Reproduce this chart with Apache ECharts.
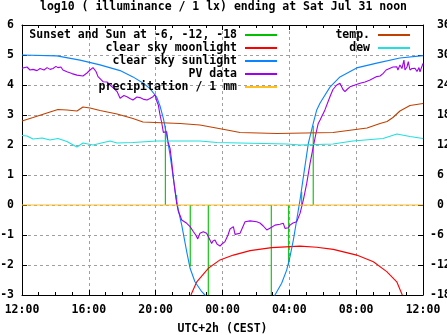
<!DOCTYPE html>
<html><head><meta charset="utf-8">
<script src="https://cdn.jsdelivr.net/npm/echarts@6/dist/echarts.min.js"></script>
<style>html,body{margin:0;padding:0;background:#fff}#c{width:447px;height:335px}</style>
</head><body><div id="c"></div>
<script>
// hours after 12:00 noon (0..24)
const xTickHours = [0, 4, 8, 12, 16, 20, 24];
const sunsetHours = [8.58, 9.26, 10.07, 11.15, 14.92, 15.96, 16.74, 17.43];
const sunsetLevels = [2.64, 0.33, -2.05, -3.0, -3.0, -2.0, 0.44, 2.64];

const moonHours = [10.11, 10.46, 11.15, 11.85, 12.65, 13.65, 14.94, 16.64, 17.64, 18.63, 20.03, 21.03, 21.83, 22.43, 22.76];
const moonValues = [-3.0, -2.56, -2.11, -1.83, -1.67, -1.52, -1.42, -1.37, -1.41, -1.48, -1.67, -1.89, -2.22, -2.56, -3.0];

const sunHours = [0, 2.09, 3.47, 4.67, 5.87, 6.64, 7.26, 7.66, 8.06, 8.26, 8.46, 8.66, 8.86, 9.06, 9.26, 9.40, 9.56, 9.71, 9.86, 10.06, 10.35, 10.76, 10.95, 11.2,
  14.9, 15.14, 15.54, 15.84, 16.04, 16.24, 16.44, 16.64, 16.84, 17.14, 17.43, 17.64, 17.84, 18.43, 19.03, 20.03, 21.23, 22.62, 24];
const sunValues = [5.0, 4.97, 4.83, 4.67, 4.48, 4.27, 4.06, 3.88, 3.6, 3.3, 2.89, 2.33, 1.67, 0.89, 0.11, -0.28, -0.67, -1.11, -1.56, -2.11, -2.56, -2.89, -3.0, -3.3,
  -3.3, -3.0, -2.61, -2.17, -1.72, -1.17, -0.5, 0.17, 0.94, 2.06, 2.72, 3.17, 3.4, 3.93, 4.27, 4.57, 4.73, 4.9, 4.98];

const pvHours = [0, 0.30, 0.48, 0.66, 0.90, 1.08, 1.32, 1.50, 1.68, 1.86, 2.03, 2.15, 2.33, 2.45, 2.69, 2.99, 3.29, 3.65, 3.89, 4.07, 4.25, 4.43, 4.55, 4.85, 5.09, 5.27, 5.51, 5.69, 5.87, 6.10, 6.28, 6.46, 6.64, 6.88, 7.06, 7.30, 7.48, 7.66, 7.84, 7.96, 8.08,
  8.16, 8.26, 8.36, 8.46, 8.56, 8.66, 8.74, 8.86, 8.96, 9.06, 9.16, 9.26, 9.35, 9.46, 9.56, 9.86, 10.06, 10.26, 10.40, 10.52, 10.65, 10.85, 11.05, 11.20, 11.35, 11.43, 11.55, 11.67, 11.85, 11.97, 12.15, 12.33, 12.45, 12.65, 12.75, 13.05, 13.35, 13.65, 14.05, 14.24, 14.44, 14.65, 14.74, 14.94, 15.14, 15.44, 15.64, 15.74, 15.94, 16.04, 16.22, 16.44,
  16.64, 16.84, 17.04, 17.24, 17.43, 17.60, 17.73, 17.84, 18.13, 18.43, 18.61, 18.84, 19.03, 19.21, 19.33, 19.45, 19.63, 19.93, 20.23, 20.53, 20.83, 21.23, 21.43, 21.62, 21.79, 22.03, 22.20, 22.43, 22.50, 22.62, 22.74, 22.86, 22.92, 23.04, 23.12, 23.22, 23.34, 23.52, 23.64, 23.76, 23.82, 23.91, 24.0];
const pvValues = [4.56, 4.6, 4.5, 4.52, 4.48, 4.55, 4.5, 4.58, 4.52, 4.55, 4.62, 4.58, 4.6, 4.5, 4.44, 4.38, 4.33, 4.3, 4.4, 4.5, 4.58, 4.45, 4.28, 4.11, 4.1, 4.0, 3.88, 3.78, 3.56, 3.65, 3.61, 3.55, 3.5, 3.6, 3.58, 3.52, 3.5, 3.55, 3.61, 3.68, 3.44,
  3.33, 3.0, 2.75, 2.42, 2.42, 2.44, 2.1, 1.89, 1.44, 0.9, 0.45, 0.05, -0.2, -0.35, -0.5, -0.61, -0.72, -0.89, -1.0, -1.13, -0.94, -0.89, -0.94, -1.11, -1.28, -1.2, -1.17, -1.3, -1.37, -1.3, -1.22, -1.0, -0.8, -0.72, -0.98, -0.94, -0.56, -0.53, -0.56, -0.6, -0.7, -0.83, -0.89, -0.74, -0.67, -0.64, -0.61, -0.78, -0.76, -0.67, -0.6, -0.56,
  -0.28, 0.17, 0.72, 1.39, 1.94, 2.4, 2.72, 2.83, 3.17, 3.61, 3.85, 4.0, 4.06, 3.85, 3.78, 3.85, 3.94, 4.0, 4.06, 4.1, 4.17, 4.28, 4.3, 4.39, 4.5, 4.56, 4.6, 4.61, 4.5, 4.67, 4.55, 4.83, 4.5, 4.6, 4.78, 4.5, 4.55, 4.56, 4.45, 4.58, 4.44, 4.5, 4.72];

const rainHours = [0, 24];
const rainValues = [0, 0];

// temperatures in deg C (right axis)
const tempHours = [0, 0.66, 1.68, 2.15, 2.69, 3.29, 3.65, 4.07, 4.67, 5.69, 6.64, 7.24, 9.46, 10.65, 12.27, 13.05, 15.26, 18.61, 20.65, 21.43, 21.85, 22.20, 22.62, 23.22, 24];
const tempValues = [16.8, 17.5, 18.6, 19.1, 19.0, 18.8, 19.6, 19.4, 18.9, 18.2, 17.3, 16.6, 16.3, 16.0, 15.0, 14.5, 14.3, 14.5, 15.4, 16.3, 16.7, 17.5, 18.8, 19.9, 20.3];
const dewHours = [0, 0.30, 0.66, 1.20, 1.68, 2.15, 2.69, 3.29, 3.65, 4.25, 5.27, 5.69, 6.64, 8.08, 10.65, 11.67, 13.05, 15.86, 16.64, 18.61, 19.81, 21.61, 22.44, 23.22, 24];
const dewValues = [13.9, 13.8, 13.2, 13.4, 13.0, 13.3, 12.7, 11.6, 12.4, 12.0, 12.8, 12.4, 12.5, 12.8, 12.8, 12.5, 12.4, 12.2, 12.0, 12.2, 12.8, 13.3, 14.2, 13.7, 13.3];

const leftNames = ['Sunset and Sun at -6, -12, -18', 'clear sky moonlight', 'clear sky sunlight', 'PV data', 'precipitation / 1 mm'];
const rightNames = ['temp.', 'dew'];

const zip = (a, b) => a.map((x, i) => [x, b[i]]);
const sunsetData = [];
sunsetHours.forEach((h, i) => { sunsetData.push([h, 0], [h, sunsetLevels[i]], [h, '-']); });

const FONT = '"DejaVu Sans Mono", monospace';
const txt = {fontFamily: FONT, fontWeight: 'bold', fontSize: 11.5, color: '#000'};
const pad2 = n => (n < 10 ? '0' : '') + n;

const legends = [];
leftNames.forEach((n, i) => legends.push({data: [n], right: 170, top: 28.5 + 13 * i}));
rightNames.forEach((n, i) => legends.push({data: [n], right: 37, top: 28.5 + 13 * i}));
legends.forEach(l => Object.assign(l, {
  orient: 'vertical', align: 'right', padding: 0, icon: 'rect', itemWidth: 32, itemHeight: 2,
  selectedMode: false, textStyle: Object.assign({}, txt, {lineHeight: 13, padding: [0, 3, 0, 0]})
}));

const ln = (name, data, color, yi) => ({
  name, type: 'line', data, yAxisIndex: yi || 0, symbol: 'none', silent: true, animation: false,
  lineStyle: {color, width: 1.1}, itemStyle: {color}, connectNulls: false
});

const gridLine = {show: true, lineStyle: {color: '#a0a0a0', type: [3, 3], width: 1}};
const axisBase = {
  axisLine: {show: true, onZero: false, lineStyle: {color: '#000', width: 1}},
  axisTick: {show: true, inside: true, length: 5, lineStyle: {color: '#000'}}
};

const chart = echarts.init(document.getElementById('c'), null, {renderer: 'canvas'});
chart.setOption({
  animation: false,
  backgroundColor: '#fff',
  title: {text: 'log10 ( illuminance / 1 lx) ending at Sat Jul 31 noon', left: 'center', top: 1.5, padding: 0,
    textStyle: Object.assign({}, txt)},
  legend: legends,
  grid: {left: 22, right: 24, top: 25, bottom: 40, containLabel: false, outerBoundsMode: 'none'},
  xAxis: [
    Object.assign({}, axisBase, {type: 'value', min: 0, max: 24, interval: 4,
      name: 'UTC+2h (CEST)', nameLocation: 'middle', nameGap: 28, nameTextStyle: Object.assign({}, txt),
      axisLabel: Object.assign({}, txt, {margin: 9, formatter: v => pad2((12 + v) % 24) + ':00'}),
      minorTick: {show: true, splitNumber: 4, length: 3, lineStyle: {color: '#000'}},
      splitLine: gridLine}),
    Object.assign({}, axisBase, {type: 'value', position: 'top', min: 0, max: 24, interval: 4,
      axisLabel: {show: false}, splitLine: {show: false},
      minorTick: {show: true, splitNumber: 4, length: 3, lineStyle: {color: '#000'}}})
  ],
  yAxis: [
    Object.assign({}, axisBase, {type: 'value', min: -3, max: 6, interval: 1,
      axisLabel: Object.assign({}, txt, {margin: 8}), splitLine: gridLine}),
    Object.assign({}, axisBase, {type: 'value', position: 'right', min: -18, max: 36, interval: 6,
      axisLabel: Object.assign({}, txt, {margin: 7, align: 'left', formatter: v => (v >= 0 ? ' ' : '') + v}),
      splitLine: {show: false}})
  ],
  series: [
    ln(leftNames[0], sunsetData, '#00c000'),
    ln(leftNames[1], zip(moonHours, moonValues), '#ff0000'),
    ln(leftNames[2], zip(sunHours, sunValues), '#0a84ff'),
    ln(leftNames[3], zip(pvHours, pvValues), '#a000f0'),
    ln(leftNames[4], zip(rainHours, rainValues), '#ffc020'),
    ln(rightNames[0], zip(tempHours, tempValues), '#c04000', 1),
    ln(rightNames[1], zip(dewHours, dewValues), '#20e0e0', 1)
  ]
});
</script></body></html>
